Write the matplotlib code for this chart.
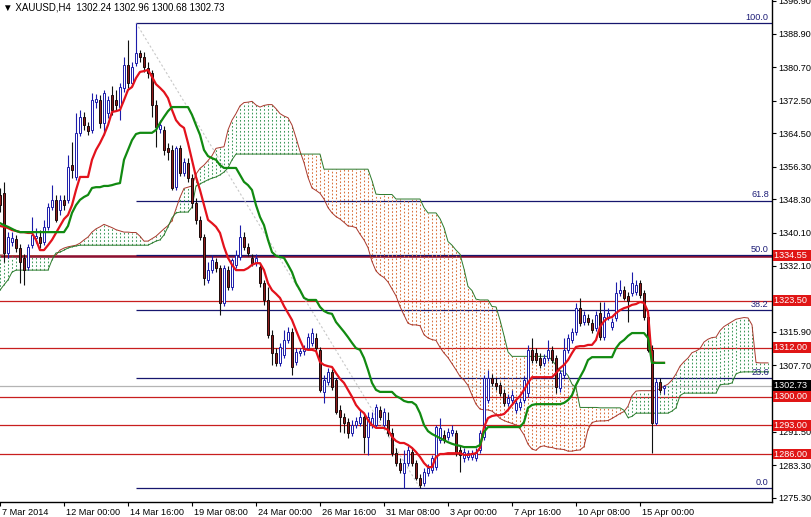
import numpy as np
import matplotlib
matplotlib.use("Agg")
import matplotlib.pyplot as plt
from matplotlib.transforms import ScaledTranslation

plt.rcParams['font.family'] = ['Liberation Sans', 'DejaVu Sans']

# XAUUSD H4 candles
open_ = [
    1349.4, 1349.9, 1335.2, 1337.9, 1338.6, 1336.4, 1334.0, 1331.8, 1337.1, 1338.9,
    1339.1, 1337.9, 1341.6, 1346.4, 1348.2, 1345.7, 1348.2, 1348.2, 1356.7, 1353.8,
    1364.6, 1368.5, 1366.3, 1365.3, 1372.1, 1372.6, 1367.0, 1369.4, 1373.9, 1372.6,
    1370.9, 1375.6, 1381.2, 1376.8, 1381.7, 1384.1, 1383.2, 1380.5, 1379.2, 1371.4,
    1365.5, 1365.3, 1360.9, 1360.4, 1351.3, 1360.9, 1354.8, 1357.2, 1353.5, 1347.4,
    1343.3, 1339.1, 1328.6, 1331.0, 1333.0, 1331.5, 1323.0, 1331.0, 1326.9, 1332.3,
    1334.2, 1339.1, 1336.7, 1334.0, 1332.7, 1331.8, 1327.8, 1323.7, 1315.1, 1310.7,
    1308.3, 1310.2, 1313.9, 1315.9, 1308.5, 1310.7, 1311.2, 1311.9, 1313.2, 1314.4,
    1311.5, 1301.2, 1303.6, 1306.1, 1304.1, 1296.8, 1295.1, 1293.8, 1291.1, 1293.1,
    1293.6, 1295.1, 1290.2, 1293.1, 1293.1, 1296.8, 1293.1, 1294.3, 1291.1, 1286.2,
    1283.8, 1281.4, 1283.8, 1286.5, 1283.8, 1280.1, 1278.9, 1281.4, 1282.1, 1282.8,
    1289.4, 1290.7, 1290.2, 1291.1, 1291.1, 1287.0, 1285.0, 1285.3, 1285.3, 1285.0,
    1287.0, 1290.2, 1299.2, 1304.6, 1303.4, 1302.9, 1300.9, 1298.5, 1299.2, 1296.8,
    1297.5, 1299.2, 1300.9, 1311.5, 1310.7, 1309.5, 1308.3, 1309.5, 1311.5, 1309.5,
    1302.2, 1305.3, 1311.5, 1313.9, 1315.9, 1321.7, 1318.3, 1319.3, 1318.1, 1316.8,
    1320.5, 1314.6, 1319.3, 1317.1, 1319.3, 1325.4, 1326.1, 1324.7, 1325.4, 1325.6,
    1327.8, 1325.4, 1319.5, 1311.5, 1293.6, 1303.6, 1302.24]
high = [
    1351.1, 1352.6, 1340.3, 1340.3, 1339.6, 1337.4, 1334.9, 1337.4, 1344.0, 1341.3,
    1340.8, 1343.3, 1347.4, 1351.8, 1349.4, 1349.4, 1349.4, 1359.2, 1362.4, 1369.4,
    1370.2, 1369.7, 1367.2, 1374.3, 1374.1, 1373.9, 1375.1, 1373.6, 1376.1, 1375.1,
    1376.8, 1383.2, 1387.3, 1381.9, 1391.5, 1384.9, 1384.4, 1381.9, 1380.0, 1372.6,
    1367.7, 1366.3, 1362.1, 1361.6, 1361.4, 1361.6, 1358.4, 1358.4, 1354.5, 1348.6,
    1344.2, 1339.8, 1333.0, 1334.7, 1334.0, 1332.3, 1332.3, 1332.0, 1334.0, 1335.9,
    1342.0, 1340.3, 1337.6, 1334.9, 1334.9, 1332.7, 1328.6, 1326.9, 1316.3, 1311.9,
    1313.2, 1316.3, 1317.1, 1316.8, 1311.9, 1311.9, 1312.7, 1315.6, 1316.8, 1315.6,
    1312.2, 1305.3, 1307.0, 1306.8, 1304.6, 1298.0, 1296.0, 1294.8, 1294.3, 1295.1,
    1296.8, 1296.0, 1296.3, 1296.3, 1298.2, 1297.8, 1297.3, 1296.3, 1292.4, 1287.5,
    1285.0, 1287.0, 1288.0, 1287.5, 1284.5, 1281.1, 1282.6, 1283.6, 1285.8, 1293.1,
    1294.8, 1291.9, 1292.4, 1293.1, 1291.9, 1288.0, 1287.5, 1287.0, 1287.0, 1287.5,
    1291.9, 1305.3, 1306.6, 1305.6, 1304.6, 1303.6, 1301.9, 1300.7, 1301.7, 1299.2,
    1299.7, 1305.1, 1312.7, 1314.4, 1311.9, 1310.7, 1310.5, 1313.9, 1312.4, 1310.2,
    1306.6, 1314.4, 1315.4, 1316.8, 1323.0, 1324.2, 1321.0, 1320.3, 1319.0, 1321.0,
    1323.2, 1323.2, 1321.7, 1319.3, 1328.1, 1328.6, 1327.1, 1325.6, 1330.5, 1328.6,
    1328.6, 1326.1, 1320.3, 1312.7, 1304.6, 1304.6, 1302.96]
low = [
    1345.2, 1333.0, 1334.0, 1336.9, 1335.4, 1327.8, 1327.4, 1331.0, 1336.4, 1337.6,
    1336.4, 1337.1, 1340.8, 1345.7, 1342.8, 1344.5, 1345.7, 1347.4, 1353.5, 1353.1,
    1363.8, 1365.3, 1364.1, 1364.6, 1370.7, 1365.8, 1364.1, 1368.2, 1369.0, 1370.2,
    1367.7, 1374.6, 1375.6, 1376.1, 1380.9, 1381.9, 1379.5, 1378.0, 1368.5, 1361.1,
    1364.6, 1359.2, 1358.0, 1350.6, 1350.6, 1354.0, 1354.0, 1352.6, 1346.2, 1342.3,
    1338.4, 1327.4, 1327.8, 1330.3, 1330.5, 1320.0, 1322.2, 1326.1, 1326.1, 1331.5,
    1333.5, 1335.9, 1334.5, 1332.0, 1332.0, 1326.9, 1322.5, 1314.4, 1307.8, 1307.5,
    1307.5, 1309.5, 1313.2, 1305.3, 1307.8, 1310.0, 1310.2, 1311.5, 1312.4, 1311.2,
    1301.2, 1298.5, 1302.9, 1301.7, 1295.8, 1291.4, 1291.1, 1289.9, 1290.4, 1292.4,
    1292.9, 1286.2, 1285.8, 1292.4, 1292.4, 1294.3, 1292.4, 1290.4, 1285.5, 1283.1,
    1281.4, 1277.7, 1283.1, 1283.1, 1279.7, 1277.7, 1278.2, 1280.6, 1281.4, 1282.1,
    1288.7, 1288.7, 1289.4, 1290.4, 1285.5, 1281.6, 1284.0, 1284.5, 1284.5, 1284.3,
    1286.2, 1289.4, 1298.5, 1302.6, 1301.7, 1300.2, 1297.8, 1297.8, 1298.5, 1296.0,
    1296.8, 1298.5, 1300.0, 1308.3, 1308.3, 1307.0, 1307.5, 1308.8, 1308.3, 1300.9,
    1301.2, 1304.6, 1310.7, 1313.2, 1315.1, 1317.3, 1317.6, 1317.6, 1315.6, 1316.1,
    1313.9, 1313.9, 1318.8, 1316.3, 1318.5, 1324.7, 1323.7, 1318.3, 1324.7, 1324.9,
    1324.2, 1318.8, 1311.0, 1286.2, 1293.1, 1300.9, 1300.68]
close = [
    1346.9, 1335.2, 1339.1, 1338.9, 1336.4, 1333.0, 1331.0, 1336.7, 1339.6, 1339.3,
    1337.6, 1341.6, 1346.4, 1348.2, 1343.3, 1348.2, 1346.9, 1356.2, 1355.5, 1364.6,
    1368.5, 1366.5, 1365.0, 1372.6, 1372.9, 1367.0, 1374.3, 1372.6, 1370.2, 1371.4,
    1375.8, 1381.2, 1376.8, 1380.7, 1384.1, 1383.2, 1380.7, 1379.2, 1371.4, 1366.0,
    1366.5, 1360.4, 1359.9, 1351.1, 1360.9, 1354.8, 1357.5, 1353.5, 1347.4, 1343.3,
    1339.1, 1329.1, 1331.0, 1333.5, 1331.5, 1323.0, 1331.5, 1326.9, 1333.5, 1334.7,
    1339.1, 1336.7, 1335.2, 1332.7, 1334.0, 1327.8, 1323.7, 1315.1, 1310.7, 1308.3,
    1312.2, 1313.9, 1315.9, 1307.3, 1311.0, 1311.2, 1311.9, 1314.6, 1315.6, 1311.9,
    1301.7, 1304.1, 1306.1, 1302.4, 1296.3, 1295.1, 1293.6, 1291.1, 1293.1, 1294.1,
    1295.1, 1290.2, 1295.1, 1294.8, 1297.5, 1295.1, 1296.3, 1291.1, 1286.2, 1283.8,
    1282.1, 1283.8, 1287.0, 1283.8, 1280.1, 1278.4, 1281.6, 1282.6, 1285.0, 1292.6,
    1292.4, 1289.4, 1291.4, 1291.9, 1286.2, 1285.8, 1286.5, 1286.2, 1286.2, 1286.5,
    1291.1, 1304.6, 1304.6, 1303.4, 1302.6, 1300.9, 1298.5, 1299.7, 1300.4, 1298.5,
    1298.7, 1304.1, 1311.5, 1309.0, 1309.0, 1307.8, 1309.5, 1311.5, 1309.0, 1302.4,
    1305.8, 1311.5, 1314.4, 1315.9, 1321.7, 1318.1, 1320.0, 1318.3, 1316.3, 1320.0,
    1314.6, 1319.5, 1320.5, 1318.3, 1325.4, 1326.1, 1324.2, 1323.5, 1327.8, 1327.4,
    1324.9, 1319.5, 1311.5, 1293.6, 1303.6, 1301.7, 1302.73]

# Ichimoku lines
tenkan = [
    1341.8, 1341.6, 1341.3, 1340.8, 1340.6, 1340.3, 1340.3, 1340.1, 1340.1, 1338.4,
    1335.9, 1335.9, 1337.1, 1338.4, 1340.1, 1341.8, 1343.5, 1344.5, 1346.9, 1350.6,
    1353.8, 1353.8, 1353.8, 1358.0, 1360.4, 1362.1, 1364.1, 1366.5, 1369.7, 1369.9,
    1370.2, 1372.6, 1375.1, 1375.8, 1378.0, 1379.5, 1379.7, 1380.0, 1378.3, 1376.5,
    1375.6, 1374.6, 1373.1, 1370.2, 1367.7, 1366.5, 1365.8, 1362.1, 1358.0, 1353.8,
    1350.6, 1346.9, 1343.3, 1342.5, 1341.6, 1340.1, 1336.7, 1334.0, 1332.3, 1331.0,
    1331.0, 1331.0, 1331.5, 1332.3, 1332.7, 1332.7, 1331.0, 1327.8, 1326.1, 1325.2,
    1324.2, 1322.2, 1320.5, 1318.8, 1316.3, 1313.9, 1311.7, 1311.5, 1311.5, 1311.2,
    1308.5, 1307.8, 1307.5, 1307.3, 1305.8, 1304.4, 1303.4, 1301.7, 1300.0, 1298.0,
    1296.8, 1296.0, 1294.3, 1293.1, 1292.4, 1292.4, 1292.4, 1291.9, 1290.2, 1289.2,
    1288.7, 1288.7, 1288.2, 1287.5, 1286.5, 1285.3, 1283.8, 1282.8, 1282.8, 1285.3,
    1286.0, 1286.0, 1286.2, 1286.2, 1286.2, 1286.2, 1285.8, 1285.8, 1286.0, 1286.2,
    1287.5, 1292.6, 1294.8, 1295.3, 1295.5, 1295.5, 1295.8, 1296.8, 1298.0, 1299.2,
    1300.2, 1301.7, 1303.4, 1304.8, 1304.8, 1304.8, 1304.8, 1304.8, 1304.8, 1305.8,
    1307.0, 1307.8, 1309.0, 1310.7, 1312.2, 1312.4, 1312.4, 1312.7, 1312.7, 1313.9,
    1317.1, 1318.5, 1319.3, 1319.5, 1320.5, 1321.2, 1321.7, 1322.0, 1322.5, 1322.7,
    1323.2, 1323.0, 1320.8, 1308.5, 1308.3, 1308.3, 1308.3]
kijun = [
    1342.5, 1342.0, 1341.6, 1341.1, 1340.6, 1340.3, 1340.3, 1340.3, 1340.3, 1340.3,
    1340.3, 1340.3, 1340.3, 1340.3, 1340.3, 1340.3, 1340.3, 1341.8, 1345.0, 1346.9,
    1348.2, 1348.9, 1349.4, 1351.1, 1351.3, 1351.3, 1351.6, 1351.6, 1351.8, 1352.1,
    1352.3, 1358.0, 1360.4, 1362.8, 1364.3, 1364.6, 1364.6, 1364.6, 1364.6, 1365.3,
    1367.0, 1368.5, 1369.9, 1370.9, 1370.9, 1370.9, 1370.9, 1370.9, 1369.0, 1366.5,
    1364.1, 1360.4, 1358.9, 1358.4, 1358.0, 1356.7, 1356.0, 1356.0, 1356.0, 1356.0,
    1354.3, 1352.6, 1351.8, 1350.6, 1346.9, 1344.0, 1342.0, 1338.4, 1335.4, 1334.5,
    1334.2, 1334.0, 1332.3, 1330.5, 1327.8, 1326.1, 1324.2, 1323.7, 1323.7, 1323.7,
    1322.0, 1321.0, 1320.5, 1320.3, 1318.3, 1317.1, 1315.9, 1314.6, 1313.2, 1311.9,
    1311.5, 1309.5, 1306.6, 1303.4, 1301.7, 1301.2, 1301.2, 1301.2, 1301.2, 1300.2,
    1299.7, 1299.0, 1298.7, 1298.7, 1298.0, 1296.0, 1293.1, 1291.6, 1290.9, 1290.4,
    1289.9, 1289.4, 1288.9, 1288.5, 1288.2, 1288.0, 1287.7, 1287.7, 1287.7, 1287.7,
    1288.2, 1291.4, 1292.6, 1292.6, 1292.6, 1292.6, 1292.6, 1292.6, 1292.6, 1292.6,
    1292.6, 1293.8, 1297.3, 1298.0, 1298.2, 1298.2, 1298.2, 1298.2, 1298.2, 1298.2,
    1298.2, 1298.5, 1299.2, 1300.4, 1302.9, 1304.8, 1306.6, 1309.0, 1309.7, 1309.7,
    1309.7, 1309.7, 1309.7, 1309.7, 1311.9, 1313.2, 1313.9, 1314.9, 1315.6, 1315.6,
    1315.6, 1315.6, 1314.4, 1308.3, 1308.3, 1308.3, 1308.3]
span_a = [
    1334.7, 1334.7, 1334.5, 1334.5, 1334.5, 1334.5, 1334.5, 1334.5, 1334.5, 1334.5,
    1334.5, 1334.5, 1334.5, 1334.5, 1334.7, 1335.9, 1336.4, 1336.7, 1336.9, 1337.1,
    1337.6, 1338.4, 1339.1, 1340.3, 1341.1, 1341.6, 1342.2, 1341.8, 1341.4, 1340.9,
    1340.6, 1340.3, 1340.3, 1340.2, 1340.2, 1339.3, 1338.1, 1338.1, 1338.7, 1339.3,
    1340.2, 1341.1, 1341.9, 1343.1, 1346.0, 1348.8, 1351.0, 1351.3, 1351.6, 1354.5,
    1355.9, 1356.7, 1357.8, 1359.0, 1360.8, 1361.0, 1361.2, 1365.3, 1367.7, 1369.3,
    1371.2, 1372.0, 1372.1, 1372.3, 1371.4, 1370.9, 1371.3, 1371.5, 1371.5, 1370.5,
    1369.3, 1368.7, 1368.3, 1366.5, 1363.4, 1360.1, 1357.3, 1353.7, 1351.1, 1350.5,
    1349.8, 1348.4, 1346.3, 1345.0, 1344.1, 1343.5, 1342.7, 1341.8, 1341.7, 1341.4,
    1339.8, 1338.4, 1336.5, 1333.1, 1330.8, 1329.8, 1329.2, 1328.1, 1326.4, 1324.7,
    1322.1, 1320.0, 1318.0, 1317.6, 1317.6, 1317.4, 1315.2, 1314.4, 1314.0, 1313.8,
    1312.1, 1310.7, 1309.6, 1308.1, 1306.6, 1305.0, 1304.1, 1302.8, 1300.4, 1298.2,
    1297.0, 1296.8, 1296.8, 1296.5, 1295.7, 1294.7, 1294.2, 1293.8, 1293.5, 1293.1,
    1292.2, 1290.7, 1288.4, 1287.2, 1286.9, 1287.8, 1288.0, 1287.7, 1287.6, 1287.3,
    1287.2, 1287.1, 1286.7, 1286.7, 1286.9, 1287.0, 1287.8, 1292.0, 1293.7, 1294.0,
    1294.1, 1294.1, 1294.2, 1294.7, 1295.3, 1295.9, 1296.4, 1297.7, 1300.3, 1301.4,
    1301.5, 1301.5, 1301.5, 1301.5, 1301.5, 1302.0, 1302.6, 1303.1, 1304.1, 1305.6,
    1307.5, 1308.6, 1309.5, 1310.8, 1311.2, 1311.8, 1313.4, 1314.1, 1314.5, 1314.6,
    1316.2, 1317.2, 1317.8, 1318.4, 1319.0, 1319.2, 1319.4, 1319.3, 1317.6, 1308.4,
    1308.3, 1308.3, 1308.3]
span_b = [
    1326.1, 1327.4, 1328.6, 1330.5, 1331.0, 1331.0, 1331.0, 1331.0, 1331.0, 1331.0,
    1331.0, 1331.0, 1331.0, 1333.5, 1335.2, 1335.4, 1335.9, 1336.4, 1336.7, 1336.9,
    1337.1, 1337.1, 1337.1, 1337.1, 1337.1, 1337.1, 1337.1, 1337.1, 1337.1, 1337.1,
    1337.1, 1337.1, 1337.1, 1337.1, 1337.1, 1337.1, 1337.1, 1337.1, 1337.6, 1338.1,
    1338.4, 1339.6, 1341.6, 1343.8, 1345.0, 1345.2, 1345.2, 1345.2, 1346.4, 1351.6,
    1352.1, 1352.6, 1353.1, 1353.5, 1353.8, 1354.3, 1355.0, 1356.0, 1358.0, 1359.4,
    1359.4, 1359.4, 1359.4, 1359.4, 1359.4, 1359.4, 1359.4, 1359.4, 1359.4, 1359.4,
    1359.4, 1359.4, 1359.4, 1359.4, 1359.4, 1359.4, 1359.4, 1359.4, 1359.4, 1359.4,
    1359.4, 1355.7, 1355.7, 1355.7, 1355.7, 1355.7, 1355.7, 1355.7, 1355.7, 1355.7,
    1355.7, 1355.7, 1355.7, 1352.9, 1349.6, 1349.5, 1349.5, 1349.5, 1349.5, 1348.4,
    1348.4, 1348.4, 1348.4, 1348.4, 1348.4, 1348.4, 1346.3, 1345.0, 1345.0, 1345.0,
    1343.6, 1341.4, 1338.0, 1337.1, 1335.9, 1334.9, 1331.3, 1327.0, 1326.0, 1323.9,
    1323.7, 1323.7, 1323.7, 1322.1, 1322.0, 1318.8, 1315.0, 1311.0, 1309.9, 1309.9,
    1309.9, 1309.9, 1309.9, 1309.9, 1309.9, 1309.9, 1309.9, 1309.9, 1309.0, 1307.7,
    1306.3, 1306.3, 1305.2, 1303.1, 1302.3, 1297.4, 1297.4, 1297.4, 1297.4, 1297.4,
    1297.3, 1297.3, 1297.3, 1297.3, 1297.3, 1297.3, 1296.7, 1294.9, 1295.2, 1296.0,
    1296.0, 1296.0, 1296.0, 1296.0, 1296.0, 1296.0, 1296.0, 1296.0, 1296.5, 1297.3,
    1300.3, 1300.9, 1300.9, 1300.9, 1300.9, 1300.9, 1300.9, 1300.9, 1300.9, 1300.9,
    1302.9, 1303.1, 1303.1, 1303.4, 1305.6, 1306.0, 1306.1, 1306.1, 1306.1, 1306.1,
    1306.1, 1306.1, 1306.1]

# horizontal objects
sr_levels = [1334.55, 1323.50, 1312.00, 1300.00, 1293.00, 1286.00]
last_price = 1302.73
fib_high, fib_low = 1391.5, 1277.7
fib_high_bar, fib_low_bar = 34, 105
fib_ratios = [100.0, 61.8, 50.0, 38.2, 23.6, 0.0]
price_ticks = [1396.90, 1388.90, 1380.70, 1372.50, 1364.50, 1356.30, 1348.30, 1340.10,
               1332.10, 1323.90, 1315.90, 1307.70, 1299.50, 1291.50, 1283.30, 1275.30]
date_pos = [0, 16, 32, 48, 64, 80, 96, 112, 128, 144, 160]
date_labels = ["7 Mar 2014", "12 Mar 00:00", "14 Mar 16:00", "19 Mar 08:00", "24 Mar 00:00",
               "26 Mar 16:00", "31 Mar 08:00", "3 Apr 00:00", "7 Apr 16:00", "10 Apr 08:00",
               "15 Apr 00:00"]
header = "\u25bc XAUUSD,H4  1302.24 1302.96 1300.68 1302.73"

FS = 6.6

fig = plt.figure(figsize=(8.11, 5.17), dpi=100)
ax = fig.add_axes([0, 15 / 517, 772 / 811, 502 / 517])
ax.set_xlim(0, 193)
ax.set_ylim(1274.26, 1397.1)

# cloud (dotted vertical hatching between the spans)
xs = np.arange(len(span_a))
a = np.array(span_a)
b = np.array(span_b)
up = a >= b
ax.vlines(xs[up], b[up], a[up], colors="#3f9a5c", lw=0.75, linestyles=(0, (1.6, 1.9)), zorder=2)
ax.vlines(xs[~up], a[~up], b[~up], colors="#d9733f", lw=0.75, linestyles=(0, (1.6, 1.9)), zorder=2)
ax.plot(xs, a, color="#a8382c", lw=0.7, zorder=2.2)
ax.plot(xs, b, color="#2b7a2b", lw=0.7, zorder=2.2)

# horizontal support/resistance and fibo
for lv in sr_levels:
    ax.axhline(lv, color="#c81e1e", lw=0.9, zorder=1.5)
ax.axhline(sr_levels[0], color="#8c1030", lw=1.8, zorder=1.5)
ax.axhline(last_price, color="#b4b4b4", lw=0.9, zorder=1.4)
fib_prices = [fib_low + r / 100 * (fib_high - fib_low) for r in fib_ratios]
ax.hlines(fib_prices, fib_high_bar, 193, colors="#16166e", lw=0.9, zorder=1.6)
for r, p in zip(fib_ratios, fib_prices):
    ax.text(192.2, p + 0.3, f"{r:.1f}", ha="right", va="bottom", color="#1e1e78", fontsize=FS, zorder=6)
ax.plot([fib_high_bar, fib_low_bar], [fib_high, fib_low], color="#c8c8c8", lw=0.8,
        ls=(0, (2, 2)), zorder=1.6)

# candles
o = np.array(open_)
h = np.array(high)
l = np.array(low)
c = np.array(close)
xi = np.arange(len(c))
bull = c >= o
top = np.maximum(h, np.maximum(o, c))
bot = np.minimum(l, np.minimum(o, c))
body_lo = np.minimum(o, c)
body_h = np.maximum(np.abs(c - o), 0.25)
ax.vlines(xi[bull], bot[bull], top[bull], colors="#1c1caa", lw=0.8, zorder=3)
ax.vlines(xi[~bull], bot[~bull], top[~bull], colors="#101010", lw=0.8, zorder=3)
ax.bar(xi[bull], body_h[bull], bottom=body_lo[bull], width=0.6, facecolor="white",
       edgecolor="#1c1caa", lw=0.7, zorder=3.2)
ax.bar(xi[~bull], body_h[~bull], bottom=body_lo[~bull], width=0.6, facecolor="#8e1d1d",
       edgecolor="#1a0a0a", lw=0.7, zorder=3.2)

# tenkan / kijun
ax.plot(np.arange(len(tenkan)), tenkan, color="#e3121c", lw=1.6, zorder=4)
ax.plot(np.arange(len(kijun)), kijun, color="#118a11", lw=1.6, zorder=4.1)

# axes styling
for s in ("top", "left"):
    ax.spines[s].set_visible(False)
for s in ("bottom", "right"):
    ax.spines[s].set_linewidth(1.0)
ax.yaxis.tick_right()
ax.set_yticks(price_ticks, [f"{t:.2f}" for t in price_ticks])
ax.tick_params(axis="y", length=3, width=0.8, pad=1.5, labelsize=FS)
ax.set_xticks(date_pos, date_labels, ha="left")
ax.tick_params(axis="x", length=3, width=0.8, pad=1.5, labelsize=FS)
shift = ScaledTranslation(2 / 100, 0, fig.dpi_scale_trans)
for lab in ax.get_xticklabels():
    lab.set_transform(lab.get_transform() + shift)

# price boxes on the right scale
ytr = ax.get_yaxis_transform()
box_items = [(lv, "#e01616") for lv in sr_levels] + [(last_price, "black")]
for lv, fc in box_items:
    ax.annotate(f"{lv:.2f}  ", xy=(1, lv), xycoords=ytr, xytext=(1.5, 0), textcoords="offset points",
                ha="left", va="center", color="white", fontsize=FS, annotation_clip=False,
                bbox=dict(boxstyle="square,pad=0.1", fc=fc, ec="none"), zorder=6)

fig.text(3 / 811, 1 - 8 / 517, header, ha="left", va="center", fontsize=FS + 0.4)

fig.savefig("out.png", dpi=100)
